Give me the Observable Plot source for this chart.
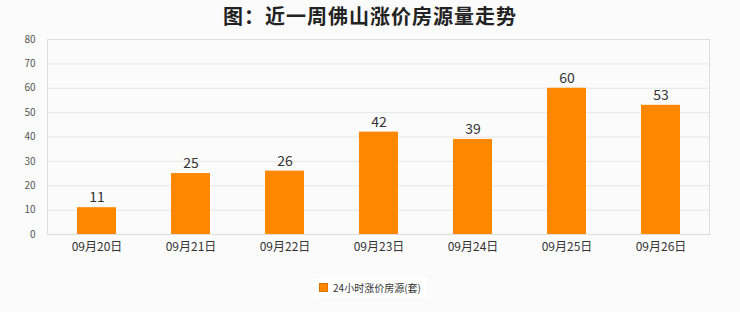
<!DOCTYPE html>
<html><head><meta charset="utf-8">
<script src="https://cdn.jsdelivr.net/npm/d3@7"></script>
<script src="https://cdn.jsdelivr.net/npm/@observablehq/plot@0.6"></script>
<style>
body{margin:0;background:#fbfbfb;font-family:"Noto Sans CJK SC","Noto Sans",sans-serif;}
#title{height:32px;line-height:32px;text-align:center;font-size:20px;font-weight:bold;color:#222;letter-spacing:1px;}
#legend{height:50px;display:flex;justify-content:center;align-items:center;}
#legend span.box{display:inline-flex;align-items:center;background:#fff;padding:2px 6px;font-size:10px;color:#333;}
#legend i{display:inline-block;width:7px;height:7px;background:#ff8800;border:1px solid #d87200;margin-right:5px;}
</style></head>
<body>
<div id="title">图：近一周佛山涨价房源量走势</div>
<div id="chart"></div>
<div id="legend"><span class="box"><i></i>24小时涨价房源(套)</span></div>
<script>
const dates = ["09月20日","09月21日","09月22日","09月23日","09月24日","09月25日","09月26日"];
const values = [11,25,26,42,39,60,53];
const yTicks = [0,10,20,30,40,50,60,70,80];
const data = dates.map((d,i)=>({date:d, value:values[i]}));
const chart = Plot.plot({
  width:740, height:230,
  marginTop:7, marginBottom:28, marginLeft:47, marginRight:31,
  style:{background:"transparent", fontFamily:"'Noto Sans CJK SC',sans-serif"},
  x:{domain:dates, paddingInner:0.59, paddingOuter:0.295, label:null},
  y:{domain:[0,80], ticks:yTicks, label:null},
  marks:[
    Plot.gridY(yTicks,{stroke:"#e6e6e6", strokeOpacity:1}),
    Plot.frame({stroke:"#dddddd"}),
    Plot.barY(data,{x:"date", y:"value", fill:"#ff8800"}),
    Plot.text(data,{x:"date", y:"value", text:d=>String(d.value), dy:-10, fontSize:14, fill:"#333"}),
    Plot.axisY({ticks:yTicks, tickSize:0, tickPadding:12, fontSize:10, fill:"#555"}),
    Plot.axisX({tickSize:0, tickPadding:8, fontSize:12, fill:"#333"})
  ]
});
document.getElementById("chart").append(chart);
</script>
</body></html>
